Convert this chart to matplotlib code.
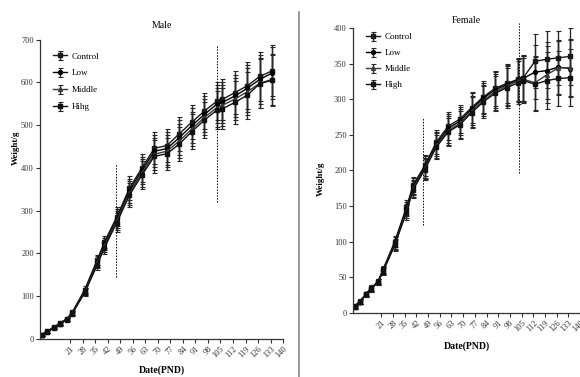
import matplotlib
matplotlib.use("Agg")
import matplotlib.pyplot as plt


# ---------------------------------------------------
# Data
# ---------------------------------------------------

days = [5, 8, 12, 15, 19, 22, 29, 36, 40, 47, 54, 61, 68, 75, 82, 89, 96, 103, 106, 113, 120, 127, 134]
tick_days = [21, 28, 35, 42, 49, 56, 63, 70, 77, 84, 91, 98, 105, 112, 119, 126, 133, 140]

male_labels = ["Control", "Low", "Middle", "Hihg"]
male_control = [9, 18, 28, 37, 47, 62, 115, 185, 226, 286, 352, 400, 446, 452, 480, 507, 533, 556, 560, 576, 592, 614, 627]
male_low = [9, 18, 27, 36, 46, 61, 112, 181, 221, 281, 346, 394, 439, 445, 471, 499, 525, 549, 553, 568, 586, 607, 622]
male_middle = [9, 17, 27, 36, 46, 60, 110, 177, 217, 277, 341, 388, 432, 439, 463, 491, 518, 541, 546, 561, 578, 598, 607]
male_high = [9, 17, 26, 35, 45, 59, 108, 173, 213, 272, 336, 383, 427, 433, 456, 485, 512, 535, 538, 553, 570, 597, 605]
male_sd = [2, 3, 3, 4, 4, 5, 8, 12, 14, 22, 28, 32, 38, 38, 40, 40, 42, 45, 48, 50, 55, 58, 60]

female_labels = ["Control", "Low", "Middle", "High"]
female_control = [9, 16, 27, 35, 44, 61, 100, 148, 179, 207, 240, 262, 272, 288, 303, 315, 322, 328, 330, 353, 356, 358, 360]
female_low = [9, 16, 27, 35, 44, 60, 98, 146, 177, 205, 237, 259, 269, 286, 301, 313, 320, 327, 329, 338, 340, 345, 343]
female_middle = [8, 16, 26, 34, 43, 59, 96, 143, 175, 203, 235, 256, 266, 283, 298, 310, 318, 326, 328, 323, 334, 344, 344]
female_high = [8, 15, 26, 34, 43, 58, 95, 141, 173, 201, 233, 254, 264, 281, 296, 308, 316, 323, 326, 321, 326, 329, 330]
female_sd = [2, 3, 3, 4, 4, 5, 8, 10, 12, 15, 17, 20, 20, 22, 22, 25, 28, 30, 32, 38, 40, 38, 40]

# dotted guide lines: (day, y from, y to)
male_guides = [(46.5, 144, 408), (103, 320, 688)]
female_guides = [(46, 123, 273), (103.5, 196, 407)]


plt.rcParams["font.family"] = ["Liberation Serif", "DejaVu Serif"]

colors = ["#1a1a1a", "#000000", "#3a3a3a", "#111111"]
markers = ["s", "o", "^", "s"]


# ---------------------------------------------------
# One panel
# ---------------------------------------------------

def draw_panel(ax, series, labels, sd, guides, title, ymax, ystep,
               ylabel_pos, xlabel_pos, title_pad, legend_anchor, spacing):

    for values, label, c, m in zip(series, labels, colors, markers):
        ax.errorbar(days, values, yerr=sd, color=c, ecolor="#262626",
                    marker=m, markersize=2.8, linewidth=1.0,
                    elinewidth=0.95, capsize=1.8, capthick=0.8, label=label)

    for x, y0, y1 in guides:
        ax.plot([x, x], [y0, y1], linestyle=(0, (1.5, 1.5)), color="black",
                linewidth=0.7, clip_on=False)

    ax.set_xlim(4, 140)
    ax.set_ylim(0, ymax)
    ax.set_yticks(range(0, ymax + 1, ystep))
    ax.set_xticks(tick_days)
    ax.set_xticklabels([str(d) for d in tick_days], rotation=45,
                       ha="right", rotation_mode="anchor")

    ax.spines["top"].set_visible(False)
    ax.spines["right"].set_visible(False)
    for s in ["left", "bottom"]:
        ax.spines[s].set_linewidth(0.9)
        ax.spines[s].set_color("#333333")
    ax.tick_params(labelsize=6, width=0.8, length=3, color="#333333",
                   labelcolor="#333333", pad=1.5)

    ax.set_ylabel("Weight/g", fontsize=6.5, fontweight="bold")
    ax.yaxis.set_label_coords(*ylabel_pos)
    ax.set_xlabel("Date(PND)", fontsize=7, fontweight="bold")
    ax.xaxis.set_label_coords(*xlabel_pos)
    ax.set_title(title, fontsize=7, pad=title_pad)

    ax.legend(loc="upper left", bbox_to_anchor=legend_anchor, frameon=False,
              fontsize=6.5, handlelength=1.6, handletextpad=0.5,
              labelspacing=spacing, numpoints=1)


fig = plt.figure(figsize=(5.8, 3.77), dpi=100)

ax1 = fig.add_axes([0.069, 0.101, 0.419, 0.794])
draw_panel(ax1, [male_control, male_low, male_middle, male_high],
           male_labels, male_sd, male_guides, "Male", 700, 100,
           (-0.082, 0.64), (0.5, -0.088), 8, (0.02, 0.985), 0.95)

ax2 = fig.add_axes([0.6086, 0.170, 0.3914, 0.756])
draw_panel(ax2, [female_control, female_low, female_middle, female_high],
           female_labels, female_sd, female_guides, "Female", 400, 50,
           (-0.123, 0.47), (0.5, -0.10), 3.5, (0.02, 1.01), 0.85)

# separator between the two panels
fig.add_artist(plt.Line2D([0.516, 0.516], [0.0, 0.967], color="#888888",
                          linewidth=1.2, transform=fig.transFigure))

fig.savefig("out.png", dpi=100)
